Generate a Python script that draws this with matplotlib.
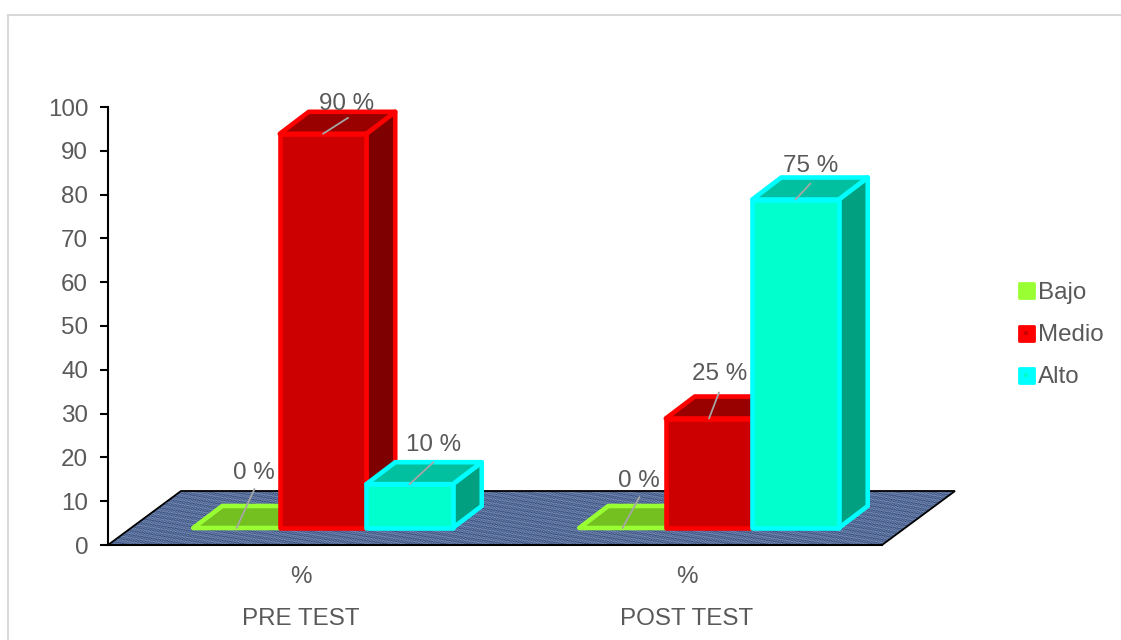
import numpy as np
import matplotlib
matplotlib.use("Agg")
import matplotlib.pyplot as plt
from matplotlib.lines import Line2D
from matplotlib.markers import MarkerStyle
from matplotlib.patches import Polygon, Rectangle
from matplotlib.legend_handler import HandlerTuple

plt.rcParams["font.family"] = ["Liberation Sans", "DejaVu Sans"]

# values
groups = ["PRE TEST", "POST TEST"]
series = ["Bajo", "Medio", "Alto"]
bajo = [0, 0]
medio = [90, 25]
alto = [10, 75]
values = [bajo, medio, alto]
y_ticks = list(range(0, 101, 10))

# colours: edge, front, top, side
colors = {
    "Bajo": ("#99FF33", "#74C020", "#74C020", "#5C9A1A"),
    "Medio": ("#FF0000", "#CC0000", "#990000", "#7F0000"),
    "Alto": ("#00FFFF", "#00FFCC", "#00C0A0", "#00A080"),
}
text_color = "#595959"
font_size = 17.4

W, H = 1121, 640
fig = plt.figure(figsize=(W / 100, H / 100), dpi=100)

# outer frame of the chart, runs off the right and bottom of the picture
fig.add_artist(Rectangle((8 / W, -0.1), 1.1, (H - 15) / H + 0.1, transform=fig.transFigure,
                         fc="white", ec="#D9D9D9", lw=1.5, zorder=-1))

# axes: y 0-100 is 107..545 px, one category is 386 px
left, right, top, bottom = 108, 955, 107, 545
ax = fig.add_axes([left / W, (H - bottom) / H, (right - left) / W, (bottom - top) / H])
ax.patch.set_alpha(0)
unit_x = 386.0
unit_y = (bottom - top) / 100.0
x_lim = (-0.5, -0.5 + (right - left) / unit_x)

# depth of floor and of bars, in data units
floor_dx, floor_dy = 73 / unit_x, 54 / unit_y
bar_dx, bar_dy = 29 / unit_x, 22 / unit_y
base_dx, base_dy = 22 / unit_x, 17 / unit_y
bar_w = 86.5 / unit_x

# floor
x0, x1 = -0.5, -0.5 + 774 / unit_x
floor_pts = [(x0, 0), (x1, 0), (x1 + floor_dx, floor_dy), (x0 + floor_dx, floor_dy)]
yy, xx = np.mgrid[0:54, 0:847]
weave = (0.5 + 0.16 * np.sin(xx * 1.93 + yy * 2.71) + 0.14 * np.sin(xx * 0.53 - yy * 3.13)
         + 0.12 * np.sin(xx * 0.217 + yy * 1.37) + 0.08 * np.sin(xx * 2.61 - yy * 1.19))
dark = np.array([0x2F, 0x46, 0x76]) / 255
light = np.array([0x82, 0x97, 0xBE]) / 255
tex = dark + weave[..., None] * (light - dark)
img = ax.imshow(tex, extent=(x0, x0 + 847 / unit_x, 0, floor_dy), origin="lower",
                aspect="auto", interpolation="bilinear", zorder=1)
clip = Polygon(floor_pts, transform=ax.transData)
img.set_clip_path(clip)
ax.set_xlim(*x_lim)
ax.set_ylim(0, 100)
ax.add_patch(Polygon(floor_pts, closed=True, fc="none", ec="black", lw=1.3, zorder=2, clip_on=False))


def draw_bar(xc, val, name, z):
    edge, front, top_c, side = colors[name]
    xl = xc - bar_w / 2 + base_dx
    xr = xc + bar_w / 2 + base_dx
    yb = base_dy
    yt = base_dy + val
    kw = dict(ec=edge, lw=3.3, joinstyle="round", clip_on=False, zorder=z)
    if val > 0:
        ax.add_patch(Polygon([(xr, yb), (xr + bar_dx, yb + bar_dy), (xr + bar_dx, yt + bar_dy), (xr, yt)],
                             fc=side, **kw))
    ax.add_patch(Polygon([(xl, yt), (xr, yt), (xr + bar_dx, yt + bar_dy), (xl + bar_dx, yt + bar_dy)],
                         fc=top_c, **kw))
    if val > 0:
        ax.add_patch(Polygon([(xl, yb), (xr, yb), (xr, yt), (xl, yt)], fc=front, **kw))
    return xl + bar_w / 2, yt


# label and leader offsets from the top of each bar, px (right, up)
label_off = {
    ("Bajo", 0): (17, 55), ("Medio", 0): (24, 30), ("Alto", 0): (24, 39),
    ("Bajo", 1): (16, 47), ("Medio", 1): (11, 44), ("Alto", 1): (15, 34),
}
leader_off = {
    ("Bajo", 0): (18, 39), ("Medio", 0): (25, 16), ("Alto", 0): (24, 22),
    ("Bajo", 1): (17, 31), ("Medio", 1): (10, 26), ("Alto", 1): (15, 16),
}

z = 3
tops = []
for g in range(len(groups)):
    for s, name in enumerate(series):
        xc = g + (s - 1) * bar_w
        px, py = draw_bar(xc, values[s][g], name, z)
        tops.append((px, py, values[s][g], name, g))
        z += 1

for px, py, val, name, g in tops:
    off = label_off[(name, g)]
    loff = leader_off[(name, g)]
    ax.annotate("", xy=(px, py), xytext=(loff[0] * 0.72, loff[1] * 0.72), textcoords="offset points",
                zorder=29, annotation_clip=False,
                arrowprops=dict(arrowstyle="-", color="#A6A6A6", lw=1.3, shrinkA=0, shrinkB=0))
    ax.annotate(f"{val} %", xy=(px, py), xytext=(off[0] * 0.72, off[1] * 0.72),
                textcoords="offset points", ha="center", va="center",
                fontsize=font_size, color=text_color, zorder=30, annotation_clip=False)

# axes styling
for sp in ["top", "right"]:
    ax.spines[sp].set_visible(False)
ax.spines["left"].set_linewidth(1.5)
ax.spines["bottom"].set_linewidth(1.5)
ax.spines["bottom"].set_bounds(x0, x1)
ax.spines["left"].set_zorder(2)
ax.spines["bottom"].set_zorder(2)
ax.set_yticks(y_ticks)
ax.tick_params(axis="y", length=5.8, width=1.5, pad=8.6, labelsize=font_size, labelcolor=text_color)
ax.set_xticks(range(len(groups)))
ax.set_xticklabels(["%"] * len(groups))
ax.tick_params(axis="x", length=0, pad=15.4, labelsize=font_size, labelcolor=text_color)
for g, name in enumerate(groups):
    ax.annotate(name, xy=(g, 0), xytext=(0, -74 * 0.72), textcoords="offset points",
                ha="center", va="center", fontsize=font_size, color=text_color, annotation_clip=False)

# legend
handles = []
for name, inner in zip(series, ["#99FF33", "#CC0000", "#00FFCC"]):
    outer_m = Line2D([], [], ls="none", marker=MarkerStyle("s", joinstyle="round"), ms=10.8,
                     mfc=colors[name][0], mec=colors[name][0], mew=2)
    inner_m = Line2D([], [], ls="none", marker="s", ms=3.5, mfc=inner, mec=inner, mew=0)
    handles.append((outer_m, inner_m))
fig.legend(handles, series, loc="center left", bbox_to_anchor=(1017 / W, (H - 335) / H),
           frameon=False, fontsize=font_size, labelcolor=text_color,
           handler_map={tuple: HandlerTuple(ndivide=1, pad=0)},
           handlelength=0.75, handletextpad=0.1, labelspacing=0.83, borderpad=0, borderaxespad=0)

fig.savefig("out.png", dpi=100)
